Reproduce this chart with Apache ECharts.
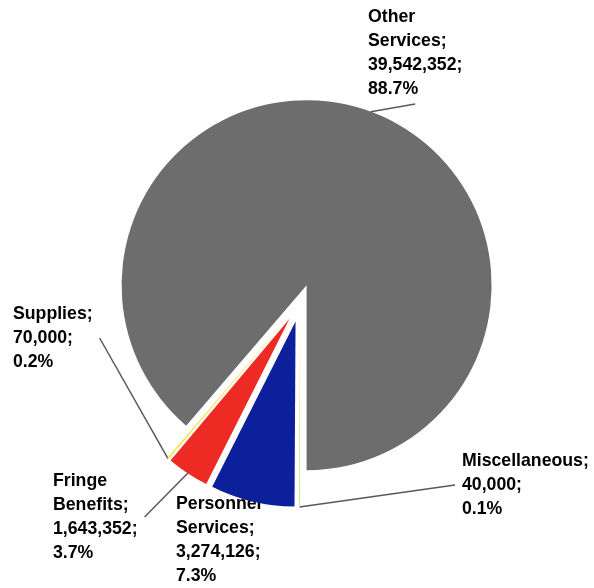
<!DOCTYPE html>
<html>
<head>
<meta charset="utf-8">
<script src="https://cdn.jsdelivr.net/npm/echarts@6/dist/echarts.min.js"></script>
<style>
  html, body { margin: 0; padding: 0; background: #ffffff; }
  #chart { width: 594px; height: 588px; }
</style>
</head>
<body>
<div id="chart"></div>
<script>
// Budget categories, listed clockwise from the bottom of the pie
const categories = ['Miscellaneous', 'Personnel Services', 'Fringe Benefits', 'Supplies', 'Other Services'];
const amounts = [40000, 3274126, 1643352, 70000, 39542352];

// Presentation settings
const sliceColors = ['#c9e28f', '#0b209a', '#ee2a24', '#ffe24a', '#6d6d6d'];
const labelSpots = [[455, 446], [169, 489], [46, 466], [6, 299], [361, 2]];
const pieCenter = [300, 303];
const pieRadius = 185;
const explode = 19;

const total = amounts.reduce((a, b) => a + b, 0);

function labelText(p) {
  const name = p.name === 'Miscellaneous' ? p.name : p.name.replace(' ', '\n');
  const pct = (p.value / total * 100).toFixed(1);
  return name + ';\n' + p.value.toLocaleString('en-US') + ';\n' + pct + '%';
}

const chart = echarts.init(document.getElementById('chart'), null, { renderer: 'canvas' });
chart.setOption({
  animation: false,
  backgroundColor: '#ffffff',
  series: [
    {
      // exploded slices
      type: 'pie',
      center: pieCenter,
      radius: pieRadius,
      startAngle: -90,
      clockwise: true,
      selectedMode: 'multiple',
      selectedOffset: explode,
      itemStyle: { borderWidth: 0 },
      select: { itemStyle: { borderWidth: 0 } },
      emphasis: { disabled: true },
      label: { show: false },
      labelLine: { show: false },
      data: categories.map((c, i) => ({
        name: c,
        value: amounts[i],
        selected: true,
        itemStyle: { color: sliceColors[i] }
      }))
    },
    {
      // data labels with leader lines reaching the outer edge of each exploded slice
      type: 'pie',
      center: pieCenter,
      radius: pieRadius + explode,
      startAngle: -90,
      clockwise: true,
      silent: true,
      z: 1,
      avoidLabelOverlap: false,
      itemStyle: { color: 'rgba(0,0,0,0)', borderWidth: 0 },
      emphasis: { disabled: true },
      data: categories.map((c, i) => ({ name: c, value: amounts[i] })),
      label: {
        show: true,
        position: 'outside',
        formatter: labelText,
        color: '#000000',
        fontFamily: '"Liberation Sans", Arial, sans-serif',
        fontWeight: 'bold',
        fontSize: 17.7,
        lineHeight: 24,
        align: 'left',
        padding: [3, 7, 3, 7]
      },
      labelLine: {
        show: true,
        length: 5,
        length2: 0,
        lineStyle: { color: '#595959', width: 1.5 }
      },
      labelLayout: function (p) {
        const s = labelSpots[p.dataIndex];
        return { x: s[0], y: s[1], align: 'left', verticalAlign: 'top' };
      }
    }
  ]
});
</script>
</body>
</html>
